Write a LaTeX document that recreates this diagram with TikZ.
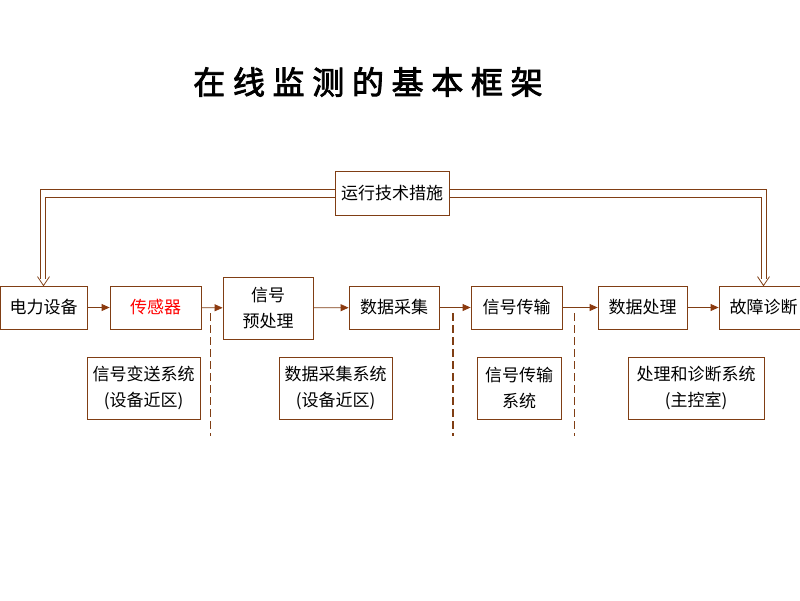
\documentclass[tikz,border=0pt]{standalone}
\usepackage{fontspec}
\setmainfont{Noto Sans CJK SC}
\newfontfamily\titlefont[FakeBold=2.5,LetterSpace=24]{Noto Sans CJK SC}
\usetikzlibrary{arrows.meta}
\definecolor{linebrown}{RGB}{128,62,20}
\definecolor{tipbrown}{RGB}{140,58,15}
\begin{document}
\begin{tikzpicture}[x=1pt, y=-1pt,
	box/.style = {draw = linebrown, line width = 0.8pt, inner sep = 0pt, minimum height = 43pt, align = center, font = \fontsize{17}{26}\selectfont},
	sysbox/.style = {box, minimum height = 62pt},
	flow/.style = {draw = linebrown, line width = 0.8pt, -{Triangle[length = 8pt, width = 7pt, color = tipbrown]}},
	rail/.style = {draw = linebrown, line width = 0.8pt},
	cut/.style = {draw = linebrown, line width = 0.8pt, dash pattern = on 8pt off 4pt}]
		\useasboundingbox (0, 0) rectangle (800, 600);
		\node[font = \titlefont\fontsize{32}{36}\selectfont] (title) at (368, 82) {在线监测的基本框架};
		% main chain
		\node[box, minimum width = 87pt] (power) at (43.5, 307.5) {电力设备};
		\node[box, minimum width = 91pt, text = red] (sensor) at (155.5, 307.5) {传感器};
		\node[box, minimum width = 90pt, minimum height = 62pt] (pre) at (268, 308) {信号\\预处理};
		\node[box, minimum width = 90pt] (daq) at (394, 307.5) {数据采集};
		\node[box, minimum width = 91pt] (trans) at (516.5, 307.5) {信号传输};
		\node[box, minimum width = 89pt] (proc) at (642.5, 307.5) {数据处理};
		\node[box, minimum width = 89pt] (fault) at (763.5, 307.5) {故障诊断};
		\node[box, minimum width = 114pt, minimum height = 44pt] (measure) at (392, 193) {运行技术措施};
		\draw[flow] (power) -- (sensor);
		\draw[flow] (sensor) -- (pre);
		\draw[flow] (pre) -- (daq);
		\draw[flow] (daq) -- (trans);
		\draw[flow] (trans) -- (proc);
		\draw[flow] (proc) -- (fault);
		% feedback (double line, open head)
		\draw[rail] ([yshift = 4pt]measure.west) -| ([xshift = -3pt, yshift = 7pt]power.north);
		\draw[rail] ([yshift = -4pt]measure.west) -| ([xshift = 2pt, yshift = 7pt]power.north);
		\draw[rail] ([xshift = -6pt, yshift = 9pt]power.north) -- (power.north) -- ([xshift = 6pt, yshift = 9pt]power.north);
		\draw[rail] ([yshift = 4pt]measure.east) -| ([xshift = 3pt, yshift = 7pt]fault.north);
		\draw[rail] ([yshift = -4pt]measure.east) -| ([xshift = -2pt, yshift = 7pt]fault.north);
		\draw[rail] ([xshift = -6pt, yshift = 9pt]fault.north) -- (fault.north) -- ([xshift = 6pt, yshift = 9pt]fault.north);
		% subsystems
		\node[sysbox, minimum width = 113pt] (sys1) at (143.5, 388) {信号变送系统\\(设备近区)};
		\node[sysbox, minimum width = 113pt] (sys2) at (335.5, 388) {数据采集系统\\(设备近区)};
		\node[sysbox, minimum width = 84pt] (sys3) at (519, 388) {信号传输\\系统};
		\node[sysbox, minimum width = 136pt] (sys4) at (696, 388) {处理和诊断系统\\(主控室)};
		\draw[cut] (210, 313) -- (210, 436);
		\draw[cut, line width = 2pt] (453, 313) -- (453, 436);
		\draw[cut] (574, 313) -- (574, 436);
	\end{tikzpicture}
\end{document}
